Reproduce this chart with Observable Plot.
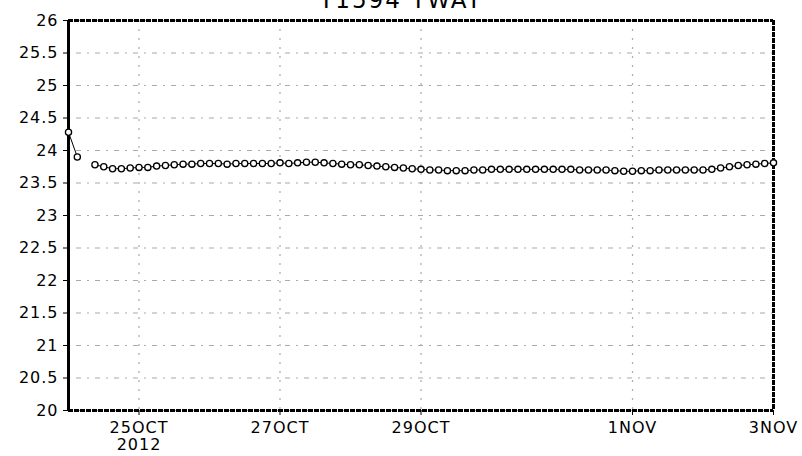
<!DOCTYPE html>
<html>
<head>
<meta charset="utf-8">
<script src="https://cdn.jsdelivr.net/npm/d3@7"></script>
<script src="https://cdn.jsdelivr.net/npm/@observablehq/plot@0.6"></script>
<style>
  html, body { margin: 0; padding: 0; background: #fff; overflow: hidden; }
  #wrap { position: relative; width: 802px; height: 456px; }
  #title {
    position: absolute; left: 0; top: -13px; width: 802px; text-align: center;
    font-family: "DejaVu Sans", sans-serif; font-size: 23px; letter-spacing: 2px; color: #000;
  }
  #wrap svg { display: block; }
  #wrap svg text { letter-spacing: 1px; }
</style>
</head>
<body>
<div id="wrap">
  <div id="title">T1594 TWAT</div>
  <div id="chart"></div>
</div>
<script>
// Series: 3-hourly readings starting 24 Oct 2012 00:00 UTC (null = missing reading)
const startTime = "2012-10-24T00:00:00Z";
const stepHours = 3;
const values = [
  24.28, 23.90, null, 23.78, 23.75, 23.72, 23.72, 23.73,
  23.74, 23.74, 23.76, 23.77, 23.78, 23.79, 23.79, 23.80,
  23.80, 23.80, 23.79, 23.80, 23.80, 23.80, 23.80, 23.80,
  23.81, 23.80, 23.81, 23.82, 23.82, 23.81, 23.80, 23.79,
  23.78, 23.78, 23.77, 23.76, 23.75, 23.74, 23.73, 23.72,
  23.71, 23.70, 23.70, 23.69, 23.69, 23.69, 23.70, 23.70,
  23.71, 23.71, 23.71, 23.71, 23.71, 23.71, 23.71, 23.71,
  23.71, 23.71, 23.70, 23.70, 23.70, 23.70, 23.69, 23.68,
  23.68, 23.69, 23.69, 23.70, 23.70, 23.70, 23.70, 23.70,
  23.70, 23.71, 23.73, 23.75, 23.77, 23.78, 23.79, 23.80,
  23.81
];

// Axis settings
const xDomain = ["2012-10-24T00:00:00Z", "2012-11-03T00:00:00Z"];
const xTicks = ["2012-10-25", "2012-10-27", "2012-10-29", "2012-11-01", "2012-11-03"];
const xTickLabels = ["25OCT\n2012", "27OCT", "29OCT", "1NOV", "3NOV"];
const yDomain = [20, 26];
const yTicks = [20, 20.5, 21, 21.5, 22, 22.5, 23, 23.5, 24, 24.5, 25, 25.5, 26];

const t0 = new Date(startTime);
const data = values.map((v, i) => ({
  t: new Date(t0.getTime() + i * stepHours * 3600 * 1000),
  v
}));
const tickDates = xTicks.map(d => new Date(d + "T00:00:00Z"));
const labelOf = new Map(tickDates.map((d, i) => [+d, xTickLabels[i]]));
const x0 = new Date(xDomain[0]), x1 = new Date(xDomain[1]);

const chart = Plot.plot({
  width: 802,
  height: 456,
  marginTop: 20,
  marginLeft: 68,
  marginRight: 29,
  marginBottom: 46,
  style: { fontFamily: "DejaVu Sans, sans-serif", fontSize: "16px", color: "#000", background: "#fff" },
  x: { type: "utc", domain: [x0, x1] },
  y: { domain: yDomain },
  marks: [
    // dotted grid
    Plot.gridX(tickDates, { stroke: "#aaa", strokeOpacity: 1, strokeWidth: 1.2, strokeDasharray: "2,7" }),
    Plot.gridY(yTicks, { stroke: "#aaa", strokeOpacity: 1, strokeWidth: 1.2, strokeDasharray: "2,6,5,6" }),
    // axes
    Plot.axisY(yTicks, { tickSize: 5, tickPadding: 5, tickFormat: d => String(d), label: null, fontSize: 16 }),
    Plot.axisX(tickDates, { tickSize: 5, tickPadding: 6, tickFormat: d => labelOf.get(+d), label: null, fontSize: 16, lineHeight: 1.05 }),
    // frame: solid left, dashed top/right/bottom
    Plot.ruleY([yDomain[1]], { stroke: "#000", strokeWidth: 3, strokeDasharray: "5,1" }),
    Plot.ruleY([yDomain[0]], { stroke: "#000", strokeWidth: 3, strokeDasharray: "5,1" }),
    Plot.ruleX([x1], { stroke: "#000", strokeWidth: 3, strokeDasharray: "5,1" }),
    Plot.ruleX([x0], { stroke: "#000", strokeWidth: 3 }),
    // series
    Plot.line(data, { x: "t", y: "v", stroke: "#000", strokeWidth: 1 }),
    Plot.dot(data.filter(d => d.v != null), { x: "t", y: "v", r: 3.1, stroke: "#000", strokeWidth: 1.3, fill: "#fff" })
  ]
});
document.getElementById("chart").appendChild(chart);
</script>
</body>
</html>
